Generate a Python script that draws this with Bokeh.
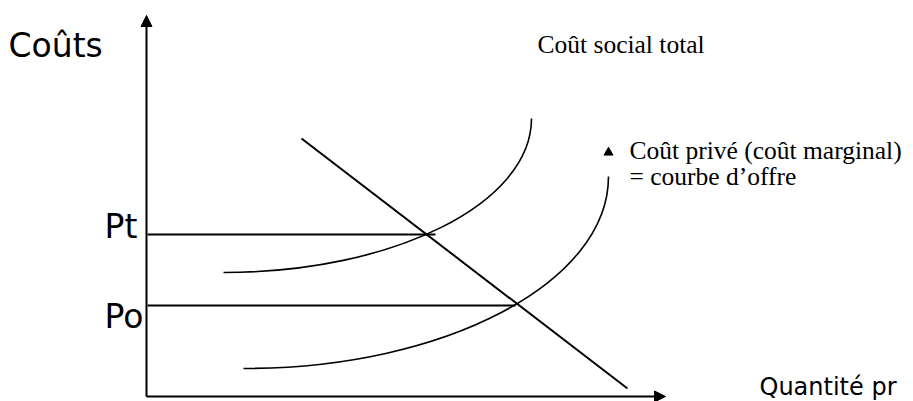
from bokeh.plotting import figure
from bokeh.models import Range1d, Arrow, NormalHead
from bokeh.core.properties import value
from bokeh.embed import file_html
from bokeh.resources import INLINE

# ---- diagram data (quantity on x, cost on y; origin at axes crossing) ----
x_axis_end = 518          # end of quantity axis
y_axis_end = 380          # end of cost axis

price_labels = ["Pt", "Po"]
price_levels = [161, 90]  # Pt, Po
price_q = [288, 368]      # quantity where each price line meets its curve

demand_q = [154, 480]
demand_p = [257, 7]

# cost curves as cubic Bezier segments: start, control 1, control 2, end
social_cost = dict(x0=[76], y0=[123], cx0=[246], cy0=[123],
                   cx1=[384], cy1=[192], x1=[384], y1=[277])
private_cost = dict(x0=[96], y0=[27], cx0=[298], cy0=[27],
                    cx1=[461], cy1=[113], x1=[461], y1=[219])

# text labels
axis_y_title = "Coûts"
axis_x_title = "Quantité pr"
social_label = "Coût social total"
private_label = ["Coût privé (coût marginal)", "= courbe d’offre"]
private_marker = (461, 243)

p = figure(width=913, height=401, x_range=Range1d(-147, 766), y_range=Range1d(-6, 395),
           toolbar_location=None, output_backend="svg", min_border=0)
p.axis.visible = False
p.grid.visible = False
p.outline_line_color = None
p.background_fill_color = "white"
p.border_fill_color = "white"

black = "black"

# axes with arrowheads
p.add_layout(Arrow(end=NormalHead(size=11, fill_color=black, line_color=black, line_width=1),
                   x_start=-1, y_start=-1, x_end=-1, y_end=y_axis_end,
                   line_color=black, line_width=2))
p.add_layout(Arrow(end=NormalHead(size=11, fill_color=black, line_color=black, line_width=1),
                   x_start=-1, y_start=-1, x_end=x_axis_end, y_end=-1,
                   line_color=black, line_width=2))

# price lines
for lvl, q in zip(price_levels, price_q):
    p.line([0, q], [lvl, lvl], line_color=black, line_width=2)

# demand
p.line(demand_q, demand_p, line_color=black, line_width=2)

# cost curves
p.bezier(line_color=black, line_width=1.6, **social_cost)
p.bezier(line_color=black, line_width=1.6, **private_cost)

# labels
sans = value("DejaVu Sans")
serif = value("Liberation Serif")
p.text(x=[-139], y=[350], text=[axis_y_title], text_font=sans, text_font_size="33px",
       text_baseline="alphabetic", text_align="left", text_color=black)
p.text(x=[-43, -43], y=[169, 79], text=price_labels, text_font=sans, text_font_size="33px",
       text_baseline="alphabetic", text_align="left", text_color=black)
p.text(x=[612], y=[9], text=[axis_x_title], text_font=sans, text_font_size="24px",
       text_baseline="alphabetic", text_align="left", text_color=black)
p.text(x=[390], y=[351], text=[social_label], text_font=serif, text_font_size="25.5px",
       text_baseline="alphabetic", text_align="left", text_color=black)
p.text(x=[482, 482], y=[245, 219], text=private_label, text_font=serif, text_font_size="25.5px",
       text_baseline="alphabetic", text_align="left", text_color=black)
p.scatter([private_marker[0]], [private_marker[1]], marker="triangle", size=9,
          fill_color=black, line_color=black)

open("out.html", "w").write(file_html(p, INLINE))
